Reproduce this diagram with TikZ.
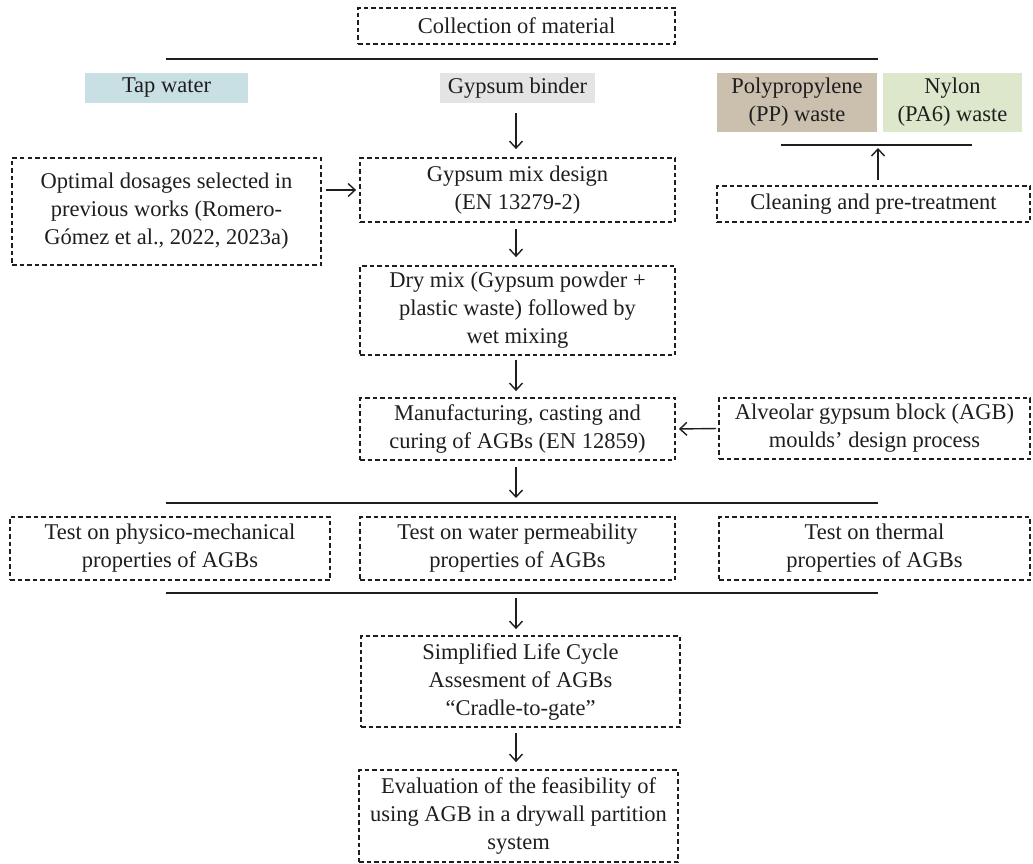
\documentclass[tikz,border=0pt]{standalone}
\usepackage{fontspec}
\setmainfont{Liberation Serif}
\usetikzlibrary{arrows.meta}
\definecolor{tapc}{HTML}{C8DFE3}
\definecolor{gypc}{HTML}{E4E4E4}
\definecolor{ppc}{HTML}{CBBFAE}
\definecolor{nyc}{HTML}{DDE7CC}
\definecolor{ink}{HTML}{1E1E1E}
\begin{document}
\begin{tikzpicture}[x=1pt,y=-1pt,
  every node/.style={font=\fontsize{22.5}{28}\selectfont, text=ink, align=center, inner sep=0pt},
  dbox/.style={draw=ink, line width=1.8pt, dash pattern=on 4.5pt off 3pt},
  arr/.style={draw=ink, line width=1.4pt, -{Straight Barb[length=7pt,width=13pt]}},
  hline/.style={draw=ink, line width=2pt}]
\useasboundingbox (0,0) rectangle (1033,864);
% top
\node[dbox, minimum width=317pt, minimum height=36pt] (coll) at (516.5,26) {Collection of material};
\draw[hline] (166,59) -- (878,59);
% materials
\node[fill=tapc, minimum width=163pt, minimum height=30pt] (tap) at (166.5,88) {Tap water};
\node[fill=gypc, minimum width=155pt, minimum height=30pt] (gyp) at (517.5,88) {Gypsum binder};
\node[fill=ppc, minimum width=160pt, minimum height=59pt] (pp) at (797,102.5) {Polypropylene\\(PP) waste};
\node[fill=nyc, minimum width=139pt, minimum height=59pt] (ny) at (952.5,102.5) {Nylon\\(PA6) waste};
\draw[hline] (781,145) -- (972,145);
\coordinate (ppl) at (878,145);
\node[dbox, minimum width=313pt, minimum height=36pt] (clean) at (873.5,204) {Cleaning and pre-treatment};
% mix design
\node[dbox, minimum width=315pt, minimum height=64pt] (mix) at (517.5,190) {Gypsum mix design\\(EN 13279-2)};
\node[dbox, minimum width=309pt, minimum height=107pt] (opt) at (166.5,211.5) {Optimal dosages selected in\\previous works (Romero-\\Gómez et al., 2022, 2023a)};
\node[dbox, minimum width=315pt, minimum height=89pt] (dry) at (517.5,310.5) {Dry mix (Gypsum powder +\\plastic waste) followed by\\wet mixing};
\node[dbox, minimum width=315pt, minimum height=62pt] (man) at (517.5,429) {Manufacturing, casting and\\curing of AGBs (EN 12859)};
\node[dbox, minimum width=311pt, minimum height=61pt] (alv) at (874.5,428.5) {Alveolar gypsum block (AGB)\\moulds’ design process};
% tests
\draw[hline] (166,503) -- (878,503);
\coordinate (l1) at (516,503);
\node[dbox, minimum width=320pt, minimum height=63pt] (t1) at (170,548.5) {Test on physico-mechanical\\properties of AGBs};
\node[dbox, minimum width=315pt, minimum height=63pt] (t2) at (517.5,548.5) {Test on water permeability\\properties of AGBs};
\node[dbox, minimum width=311pt, minimum height=63pt] (t3) at (874.5,548.5) {Test on thermal\\properties of AGBs};
\draw[hline] (166,593) -- (878,593);
\coordinate (l2) at (516,593);
% LCA
\node[dbox, minimum width=319pt, minimum height=91pt] (lca) at (520.5,681.5) {Simplified Life Cycle\\Assesment of AGBs\\“Cradle-to-gate”};
\node[dbox, minimum width=319pt, minimum height=92pt] (eval) at (518.5,816) {Evaluation of the feasibility of\\using AGB in a drywall partition\\system};
% arrows
\draw[arr, shorten <=10pt, shorten >=8pt] (gyp.south -| 516,0) -- (mix.north -| 516,0);
\draw[arr, shorten <=4pt, shorten >=3pt] (opt.east |- mix.west) -- (mix.west);
\draw[arr, shorten <=6pt, shorten >=8pt] (mix.south -| 516,0) -- (dry.north -| 516,0);
\draw[arr, shorten <=4pt, shorten >=6pt] (dry.south -| 516,0) -- (man.north -| 516,0);
\draw[arr, shorten <=2pt, shorten >=3pt] (alv.west) -- (man.east);
\draw[arr, shorten <=5pt, shorten >=3pt] (clean.north -| ppl) -- (ppl);
\draw[arr, shorten <=6pt, shorten >=5pt] (man.south -| l1) -- (l1);
\draw[arr, shorten <=5pt, shorten >=6pt] (l2) -- (lca.north -| l2);
\draw[arr, shorten <=5pt, shorten >=7pt] (lca.south -| l2) -- (eval.north -| l2);
\end{tikzpicture}
\end{document}
